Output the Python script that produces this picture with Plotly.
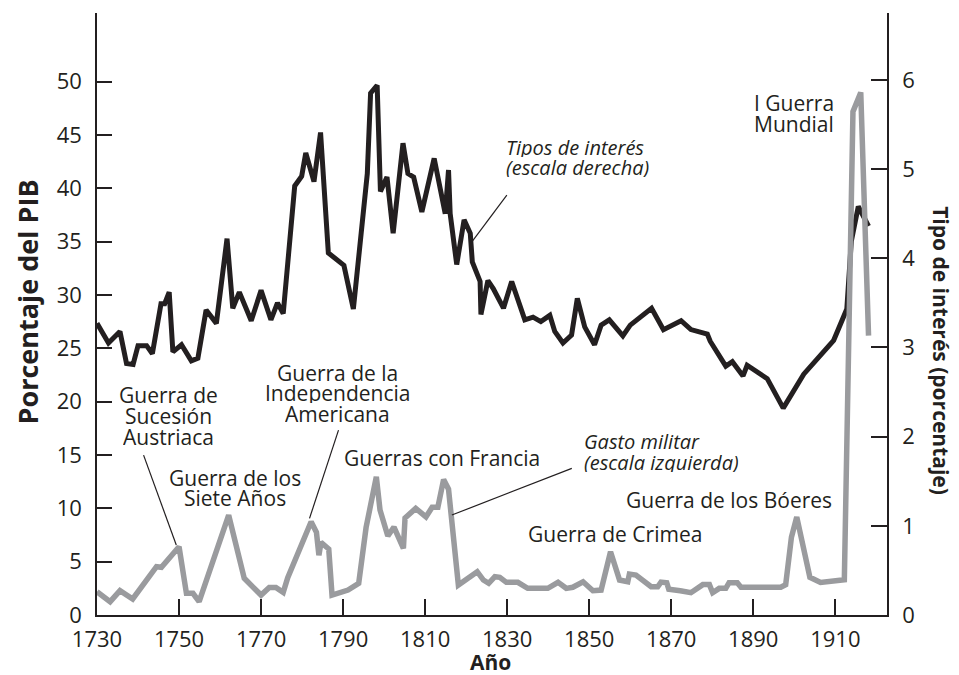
import plotly.graph_objects as go

# ---- data ----
rate_years = [1730, 1732.8, 1735.6, 1737.2, 1738.8, 1740.0, 1742.1, 1743.5, 1745.6, 1746.5,
              1747.6, 1748.5, 1750.6, 1753.0, 1754.6, 1756.6, 1759.1, 1761.7, 1763.1, 1764.7,
              1767.6, 1770.0, 1772.4, 1774.0, 1775.4, 1778.2, 1779.9, 1780.9, 1782.9, 1784.5,
              1786.4, 1790.2, 1792.5, 1795.9, 1796.7, 1798.3, 1799.1, 1800.7, 1802.2, 1804.6,
              1805.8, 1807.2, 1809.2, 1812.2, 1814.9, 1815.7, 1816.1, 1817.7, 1819.5, 1821.0,
              1821.5, 1823.4, 1823.6, 1825.3, 1826.6, 1829.1, 1831.1, 1834.3, 1836.3, 1838.2,
              1840.4, 1841.6, 1843.6, 1845.7, 1847.1, 1848.9, 1851.3, 1852.9, 1854.9, 1858.2,
              1860.0, 1865.2, 1868.1, 1872.4, 1874.8, 1878.8, 1879.5, 1883.3, 1884.9, 1887.5,
              1888.5, 1893.4, 1897.3, 1902.3, 1909.6, 1912.8, 1913.9, 1915.6, 1918.1]
rate_values = [3.27, 3.05, 3.18, 2.82, 2.81, 3.02, 3.02, 2.93, 3.49, 3.49,
               3.62, 2.95, 3.03, 2.85, 2.88, 3.42, 3.27, 4.22, 3.44, 3.62,
               3.30, 3.64, 3.31, 3.50, 3.38, 4.81, 4.92, 5.18, 4.86, 5.41,
               4.06, 3.92, 3.43, 4.95, 5.85, 5.94, 4.75, 4.91, 4.28, 5.29,
               4.95, 4.91, 4.52, 5.12, 4.50, 4.99, 4.50, 3.93, 4.43, 4.28,
               3.96, 3.74, 3.37, 3.75, 3.66, 3.44, 3.74, 3.31, 3.34, 3.29,
               3.36, 3.18, 3.05, 3.14, 3.55, 3.23, 3.03, 3.25, 3.31, 3.13,
               3.25, 3.44, 3.20, 3.30, 3.20, 3.15, 3.07, 2.79, 2.84, 2.68,
               2.80, 2.65, 2.32, 2.70, 3.08, 3.43, 4.19, 4.58, 4.36]

mil_years = [1730, 1733.2, 1735.6, 1738.7, 1744.5, 1745.7, 1750.0, 1751.8, 1753.4, 1754.9,
             1762.1, 1765.9, 1770.0, 1772.0, 1773.6, 1775.4, 1776.5, 1782.2, 1783.5, 1784.1,
             1784.6, 1786.5, 1787.3, 1791.2, 1793.8, 1795.6, 1798.1, 1799.0, 1800.9, 1802.4,
             1804.7, 1805.1, 1807.7, 1810.2, 1811.7, 1813.1, 1814.5, 1815.7, 1818.1, 1822.7,
             1824.2, 1825.5, 1827.0, 1828.2, 1829.8, 1832.6, 1835.0, 1839.9, 1842.4, 1844.4,
             1846.0, 1848.5, 1850.9, 1852.9, 1855.2, 1857.4, 1859.4, 1859.8, 1861.4, 1865.1,
             1866.7, 1867.5, 1868.9, 1869.4, 1872.2, 1874.8, 1877.7, 1879.3, 1880.1, 1881.7,
             1883.3, 1884.1, 1886.1, 1887.0, 1896.7, 1897.9, 1899.3, 1900.6, 1903.8, 1906.4,
             1912.2, 1914.3, 1916.2, 1918.1]
mil_values = [2.18, 1.25, 2.28, 1.50, 4.53, 4.47, 6.40, 2.03, 2.03, 1.25,
              9.37, 3.44, 1.87, 2.59, 2.59, 2.12, 3.50, 8.75, 7.75, 5.60,
              6.80, 6.19, 1.87, 2.34, 2.97, 8.20, 12.96, 9.84, 7.40, 8.25,
              6.25, 9.10, 10.00, 9.20, 10.10, 10.10, 12.70, 11.80, 2.81, 4.06,
              3.28, 2.97, 3.59, 3.53, 3.06, 3.06, 2.50, 2.50, 3.06, 2.50,
              2.60, 3.12, 2.28, 2.34, 5.93, 3.28, 3.12, 3.84, 3.75, 2.65,
              2.65, 3.09, 3.03, 2.41, 2.28, 2.09, 2.85, 2.85, 2.09, 2.50,
              2.50, 3.03, 3.03, 2.61, 2.61, 2.85, 7.29, 9.19, 3.54, 3.05,
              3.30, 47.2, 49.0, 26.2]

x_ticks = [1730, 1750, 1770, 1790, 1810, 1830, 1850, 1870, 1890, 1910]
left_ticks = [0, 5, 10, 15, 20, 25, 30, 35, 40, 45, 50]
right_ticks = [0, 1, 2, 3, 4, 5, 6]

# ---- layout helpers (pixel -> data coordinates) ----
X0_PX, X1_PX = 96.7, 887.0
Y0_PX, Y1_PX = 615.0, 12.7
XR = [1730, 1922.6]
YL = [0, 56.45]
YR = [0, 6.75]


def px_x(px):
    return XR[0] + (px - X0_PX) * (XR[1] - XR[0]) / (X1_PX - X0_PX)


def px_y(py):
    return YL[0] + (Y0_PX - py) * (YL[1] - YL[0]) / (Y0_PX - Y1_PX)


def dom_x(px):
    return (px - X0_PX) / (X1_PX - X0_PX)


def dom_y(py):
    return (Y0_PX - py) / (Y0_PX - Y1_PX)


FONT = "Open Sans"
INK = "#231f20"
GREY = "#9a9b9e"

fig = go.Figure()
fig.add_trace(go.Scatter(x=rate_years, y=rate_values, mode="lines", yaxis="y",
                         line=dict(color=INK, width=5), showlegend=False,
                         hoverinfo="skip"))
fig.add_trace(go.Scatter(x=mil_years, y=mil_values, mode="lines", yaxis="y2",
                         line=dict(color=GREY, width=5.5), showlegend=False,
                         hoverinfo="skip"))

axis_common = dict(showgrid=False, zeroline=False, showline=True, linecolor=INK,
                   linewidth=1.5, ticks="inside", tickcolor=INK, tickwidth=1.5,
                   automargin=False,
                   tickfont=dict(family=FONT, size=22, color=INK))

fig.update_layout(
    width=959, height=675,
    margin=dict(l=97, r=72, t=13, b=60, pad=0),
    plot_bgcolor="white", paper_bgcolor="white",
    xaxis=dict(range=XR, tickvals=x_ticks, ticklen=16, ticklabelstandoff=4, **axis_common),
    yaxis=dict(range=YR, tickvals=right_ticks, side="right", ticklen=16,
               ticklabelstandoff=9, **axis_common),
    yaxis2=dict(range=YL, tickvals=left_ticks, side="left", overlaying="y", ticklen=15,
                ticklabelstandoff=9, **axis_common),
)

# ---- annotation texts ----
label_lines = [
    ("Guerra de", 168, 394), ("Sucesión", 168, 415), ("Austriaca", 168, 436),
    ("Guerra de los", 235, 477), ("Siete Años", 235, 497.5),
    ("Guerra de la", 337, 372), ("Independencia", 337, 392.5), ("Americana", 337, 413),
    ("Guerras con Francia", 442, 457),
    ("Guerra de los Bóeres", 729, 499.5),
    ("Guerra de Crimea", 615, 533),
    ("I Guerra", 793.5, 102.5), ("Mundial", 793.5, 123.6),
]
for txt, px, py in label_lines:
    fig.add_annotation(x=px_x(px), y=px_y(py), xref="x", yref="y2", text=txt,
                       showarrow=False, xanchor="center", yanchor="middle", height=21,
                       font=dict(family=FONT, size=21, color=INK))

italic_lines = [
    ("Tipos de interés", 504, 147), ("(escala derecha)", 504, 167),
    ("Gasto militar", 582, 441), ("(escala izquierda)", 582, 462),
]
for txt, px, py in italic_lines:
    fig.add_annotation(x=px_x(px), y=px_y(py), xref="x", yref="y2", text="<i>" + txt + "</i>",
                       showarrow=False, xanchor="left", yanchor="middle", height=20,
                       font=dict(family=FONT, size=20, color=INK))

leaders = [
    ((143.3, 455), (176, 545)),
    ((338.3, 430), (309.3, 518.3)),
    ((571.7, 468.3), (451.7, 515)),
    ((506.7, 195), (471.7, 241.7)),
]
for (ax_, ay_), (bx, by) in leaders:
    fig.add_shape(type="line", xref="x", yref="y2", x0=px_x(ax_), y0=px_y(ay_),
                  x1=px_x(bx), y1=px_y(by), line=dict(color=INK, width=1.2))

# ---- axis titles ----
fig.add_annotation(xref="x domain", yref="y domain", x=dom_x(27), y=dom_y(302),
                   xanchor="center", yanchor="middle",
                   text="<b>Porcentaje del PIB</b>", textangle=-90, showarrow=False,
                   font=dict(family=FONT, size=27, color=INK))
fig.add_annotation(xref="x domain", yref="y domain", x=dom_x(490), y=dom_y(662),
                   xanchor="center", yanchor="middle",
                   text="<b>Año</b>", showarrow=False, font=dict(family=FONT, size=21, color=INK))
fig.add_annotation(xref="x domain", yref="y domain", x=dom_x(941), y=dom_y(351),
                   xanchor="center", yanchor="middle",
                   text="<b>Tipo de interés (porcentaje)</b>", textangle=90, showarrow=False,
                   font=dict(family=FONT, size=21, color=INK))

fig.write_html("out.html", config={"displayModeBar": False},
               post_script="document.body.style.margin='0';")
